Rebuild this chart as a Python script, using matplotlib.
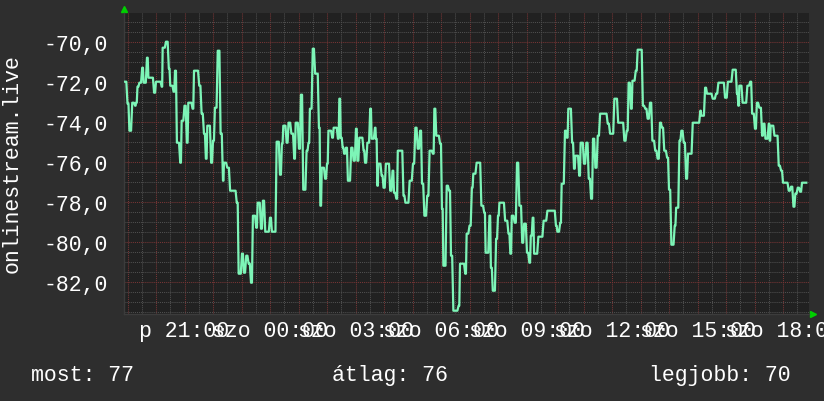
import matplotlib
matplotlib.use("Agg")
import matplotlib.pyplot as plt
from matplotlib.ticker import FixedLocator, MultipleLocator

# samples: minutes after the first sample (péntek 18:55) and the value
start_hour = 18 + 55 / 60
minutes = [0, 5, 9, 15, 21, 23, 26, 30, 36, 39,
           46, 49, 61, 65, 77, 79, 86, 92, 95, 102,
           105, 109, 116, 119, 125, 130, 133, 142, 145, 156,
           161, 166, 170, 173, 181, 185, 189, 195, 201, 206,
           208, 215, 221, 235, 239, 246, 250, 255, 260, 265,
           269, 276, 279, 286, 290, 295, 305, 309, 319, 326,
           330, 333, 340, 344, 350, 356, 359, 366, 370, 375,
           382, 386, 389, 395, 400, 408, 411, 414, 421, 425,
           428, 436, 439, 448, 451, 454, 458, 461, 465, 469,
           476, 481, 486, 489, 493, 502, 505, 510, 516, 519,
           526, 528, 531, 533, 540, 544, 549, 558, 563, 566,
           571, 574, 586, 590, 599, 606, 611, 616, 621, 625,
           630, 636, 641, 648, 651, 655, 663, 667, 670, 677,
           682, 686, 691, 702, 705, 716, 719, 725,
           730, 733, 740, 750, 756, 759, 767, 770, 774, 781,
           785, 788, 800, 807, 811, 814, 820, 825, 830, 836,
           840, 846, 851, 854, 858, 861, 870, 881, 889, 907,
           910, 916, 919, 926, 930, 933, 941, 945, 948, 956,
           959, 966, 971, 976, 981, 985, 990, 995, 1000, 1016,
           1021, 1030, 1038, 1051, 1056, 1060, 1065, 1068, 1075, 1079,
           1090, 1095, 1100, 1105, 1110, 1116, 1121, 1126, 1130, 1135,
           1141, 1145, 1150, 1157, 1160, 1167, 1171, 1176, 1181, 1185,
           1195, 1211, 1213, 1221, 1225, 1237, 1244, 1249, 1263, 1269,
           1279, 1288, 1291, 1293, 1300, 1310, 1316, 1320, 1326, 1330,
           1335, 1341, 1344, 1348, 1355, 1357, 1359, 1367, 1376, 1381,
           1385, 1397, 1402, 1407, 1411, 1416, 1421, 1425, 1434]
values = [-72.0, -73.1, -74.45, -73.05, -73.2, -73.05, -72.25, -72.05, -71.3, -72.05,
          -70.8, -71.8, -72.55, -72.0, -72.25, -70.3, -70.0, -71.35, -72.2, -72.5,
          -71.45, -75.05, -76.05, -73.95, -73.2, -75.05, -73.05, -73.35, -71.45, -72.2,
          -73.6, -74.6, -75.85, -74.2, -76.05, -74.95, -73.3, -70.45, -74.6, -76.95,
          -76.05, -76.3, -77.45, -78.05, -81.6, -80.6, -81.55, -80.7, -81.1, -82.05,
          -78.7, -79.3, -78.05, -79.35, -77.95, -79.5, -78.8, -79.5, -75.0, -76.65,
          -75.1, -74.2, -75.05, -74.05, -74.6, -75.85, -74.05, -75.35, -72.65, -77.4,
          -75.45, -75.05, -73.35, -70.35, -71.6, -74.3, -78.2, -76.3, -76.85, -76.1,
          -74.45, -74.8, -74.3, -74.85, -72.85, -74.8, -75.3, -75.6, -75.3, -76.95,
          -75.3, -75.95, -74.35, -75.95, -74.8, -75.45, -76.05, -75.05, -73.35, -74.85,
          -74.3, -74.85, -77.2, -76.1, -76.7, -77.3, -76.1, -77.45, -76.45, -77.55,
          -77.85, -75.45, -77.7, -78.05, -76.95, -76.1, -74.3, -75.35, -74.45, -77.1,
          -78.7, -77.7, -75.45, -75.6, -73.35, -74.7, -75.1, -78.35, -81.2, -77.2,
          -77.45, -80.7, -83.45, -83.2, -81.1, -81.6, -79.6, -79.2,
          -77.3, -76.6, -76.05, -78.2, -78.55, -80.55, -78.7, -81.3, -82.45, -79.85,
          -78.7, -78.05, -78.95, -79.6, -80.6, -78.7, -79.05, -76.05, -78.2, -80.05,
          -79.1, -80.55, -81.05, -79.7, -78.8, -80.6, -79.75, -78.95, -78.45, -79.2,
          -79.5, -79.05, -77.1, -74.45, -74.8, -73.35, -75.05, -76.35, -75.7, -76.7,
          -75.05, -76.1, -75.05, -76.85, -77.85, -74.85, -76.3, -74.7, -73.6, -74.1,
          -74.6, -72.85, -74.05, -74.95, -74.45, -72.05, -73.35, -71.95, -71.45, -70.4,
          -73.2, -73.35, -73.85, -73.05, -74.95, -75.45, -75.85, -74.05, -74.3, -75.45,
          -75.8, -77.4, -80.15, -79.2, -78.3, -74.95, -74.45, -75.05, -76.85, -75.6,
          -74.05, -73.45, -73.7, -72.3, -72.6, -72.85, -72.6, -72.05, -72.8, -72.0,
          -71.4, -72.6, -73.2, -72.2, -73.05, -72.2, -72.0, -73.6, -74.35, -73.05,
          -73.3, -74.7, -74.1, -74.85, -74.1, -74.95, -74.2, -74.7, -76.2, -76.45,
          -77.05, -77.45, -77.25, -78.25, -77.6, -77.3, -77.5, -77.05, -77.05]

hour_ticks = list(range(19, 43))
label_hours = [21, 24, 27, 30, 33, 36, 39, 42]
label_texts = ["p 21:00", "szo 00:00", "szo 03:00", "szo 06:00",
               "szo 09:00", "szo 12:00", "szo 15:00", "szo 18:00"]
y_ticks = [-82, -80, -78, -76, -74, -72, -70]
y_label = "onlinestream.live"
stats = [("most", 77), ("átlag", 76), ("legjobb", 70)]

BG = "#2e2e2e"
PLOT_BG = "#212121"
LINE = "#7df5b7"
MAJOR = "#773535"
MINOR = "#4f4f4f"
ARROW = "#00d000"
FS = 15.5

plt.rcParams["font.family"] = ["Liberation Mono", "DejaVu Sans Mono"]

fig = plt.figure(figsize=(8.24, 4.02), dpi=100, facecolor=BG)
ax = fig.add_axes([124 / 824, 1 - 315 / 402, 685 / 824, 301 / 402])
ax.set_facecolor(PLOT_BG)

# each level is held until the next sample, then a short ramp (one 5 min step)
xs, ys = [], []
for i in range(len(minutes) - 1):
    gap = minutes[i + 1] - minutes[i]
    ramp = min(2.5, 0.5 * gap)
    xs += [minutes[i], minutes[i + 1] - ramp]
    ys += [values[i], values[i]]
xs.append(minutes[-1])
ys.append(values[-1])
hours = [start_hour + m / 60 for m in xs]
ax.plot(hours, ys, color=LINE, lw=1.6, zorder=3)

ax.set_xlim(18.877, 42.912)
ax.set_ylim(-83.615, -68.565)

ax.xaxis.set_major_locator(FixedLocator(hour_ticks))
ax.set_xticklabels([label_texts[label_hours.index(h)] if h in label_hours else ""
                    for h in hour_ticks])
ax.xaxis.set_minor_locator(MultipleLocator(0.5))
ax.yaxis.set_major_locator(FixedLocator(y_ticks))
ax.set_yticklabels([f"{v:.1f}".replace(".", ",") for v in y_ticks])
ax.yaxis.set_minor_locator(MultipleLocator(0.5))

ax.grid(which="major", color=MAJOR, linestyle=(0, (1, 1)), lw=0.75)
ax.grid(which="minor", color=MINOR, linestyle=(0, (1, 1)), lw=0.75)
ax.set_axisbelow(True)
ax.tick_params(which="both", length=0, colors="white", labelsize=FS)
ax.tick_params(axis="y", pad=11.5)
ax.tick_params(axis="x", pad=4.5)

for side in ["top", "right"]:
    ax.spines[side].set_visible(False)
for side in ["left", "bottom"]:
    ax.spines[side].set_color("#3c3c3c")
    ax.spines[side].set_linewidth(1.0)

# axis arrows
ax.plot([0], [1.012], marker="^", ms=5, color=ARROW, transform=ax.transAxes, clip_on=False)
ax.plot([1.006], [0.0], marker=">", ms=5, color=ARROW, transform=ax.transAxes, clip_on=False)

fig.text(12 / 824, 1 - 164 / 402, y_label, rotation=90, ha="center", va="center",
         color="white", fontsize=FS)

stat_x = [31, 332, 649]
for (name, val), x in zip(stats, stat_x):
    fig.text(x / 824, 1 - 381 / 402, f"{name}: {val}", ha="left", va="baseline",
             color="white", fontsize=FS)

fig.savefig("out.png", dpi=100, facecolor=BG)
